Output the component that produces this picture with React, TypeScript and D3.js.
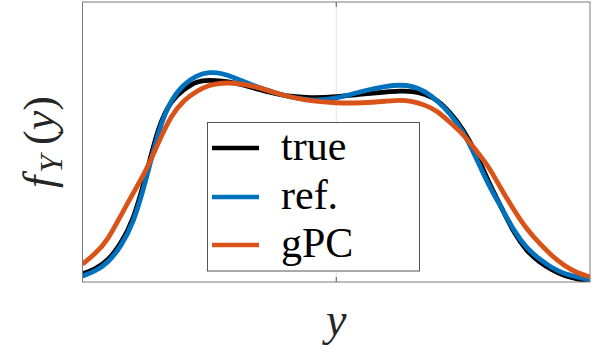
import React from "react";
import * as d3 from "d3";

// curves (x in [-1, 1], density scaled to axis height)
const xVals = [
  -1, -0.95, -0.9, -0.85, -0.8, -0.75, -0.7, -0.65, -0.6, -0.55, -0.5, -0.45, -0.4,
  -0.35, -0.3, -0.25, -0.2, -0.1, 0, 0.1, 0.2, 0.25, 0.3, 0.35, 0.4, 0.45, 0.5, 0.55,
  0.6, 0.65, 0.7, 0.75, 0.8, 0.85, 0.9, 0.95, 1,
];
const trueVals = [
  0.029, 0.046, 0.075, 0.136, 0.218, 0.379, 0.561, 0.65, 0.689, 0.718, 0.721, 0.718, 0.711,
  0.7, 0.686, 0.675, 0.664, 0.657, 0.661, 0.671, 0.679, 0.682, 0.682, 0.671, 0.65, 0.604,
  0.546, 0.464, 0.357, 0.268, 0.175, 0.111, 0.071, 0.043, 0.021, 0.011, 0.004,
];
const refVals = [
  0.021, 0.039, 0.068, 0.125, 0.207, 0.361, 0.546, 0.654, 0.707, 0.739, 0.75, 0.746, 0.729,
  0.711, 0.693, 0.679, 0.664, 0.646, 0.654, 0.682, 0.7, 0.704, 0.7, 0.682, 0.646, 0.6,
  0.539, 0.446, 0.346, 0.268, 0.182, 0.121, 0.082, 0.05, 0.029, 0.018, 0.007,
];
const gpcVals = [
  0.064, 0.1, 0.15, 0.236, 0.318, 0.396, 0.5, 0.596, 0.65, 0.682, 0.704, 0.711, 0.711,
  0.704, 0.693, 0.679, 0.664, 0.646, 0.639, 0.639, 0.646, 0.65, 0.646, 0.632, 0.611, 0.568,
  0.529, 0.471, 0.414, 0.332, 0.257, 0.189, 0.139, 0.093, 0.057, 0.032, 0.018,
];
const seriesNames = ["true", "ref.", "gPC"];
const seriesColors = ["#000000", "#0072BD", "#D95319"];
const xTicks = [0];

const W = 598;
const H = 354;
const box = { left: 82.5, right: 590, top: 2, bottom: 282 };
const serif = "'Liberation Serif', 'DejaVu Serif', serif";

export default function App() {
  const x = d3.scaleLinear().domain([-1, 1]).range([box.left, box.right]);
  const y = d3.scaleLinear().domain([0, 1]).range([box.bottom, box.top]);

  const line = d3
    .line<number>()
    .x((d, i) => x(xVals[i]))
    .y((d) => y(d))
    .curve(d3.curveBasis);

  const series = [trueVals, refVals, gpcVals];

  // legend placement
  const leg = { x: 207.5, y: 122.5, w: 212, h: 148.5 };
  const rowY = [148, 197, 245];

  return (
    <div style={{ position: "fixed", left: 0, top: 0 }}>
      <svg width={W} height={H} style={{ display: "block", background: "#fff" }}>
        <defs>
          <clipPath id="plot">
            <rect x={box.left} y={box.top} width={box.right - box.left} height={box.bottom - box.top} />
          </clipPath>
        </defs>

        {xTicks.map((t) => (
          <g key={t}>
            <line x1={x(t)} x2={x(t)} y1={box.top} y2={box.bottom} stroke="#e3e3e3" strokeWidth={1} />
            <line x1={x(t)} x2={x(t)} y1={box.bottom} y2={box.bottom - 5} stroke="#555" strokeWidth={1} />
            <line x1={x(t)} x2={x(t)} y1={box.top} y2={box.top + 5} stroke="#555" strokeWidth={1} />
          </g>
        ))}

        <g clipPath="url(#plot)">
          {series.map((s, i) => (
            <path
              key={seriesNames[i]}
              d={line(s) || ""}
              fill="none"
              stroke={seriesColors[i]}
              strokeWidth={4.8}
              strokeLinejoin="round"
            />
          ))}
        </g>

        <rect
          x={box.left}
          y={box.top}
          width={box.right - box.left}
          height={box.bottom - box.top}
          fill="none"
          stroke="#7a7a7a"
          strokeWidth={1}
        />

        {/* legend */}
        <rect x={leg.x} y={leg.y} width={leg.w} height={leg.h} fill="#fff" stroke="#555" strokeWidth={1} />
        {seriesNames.map((n, i) => (
          <g key={n}>
            <line x1={212} x2={259} y1={rowY[i]} y2={rowY[i]} stroke={seriesColors[i]} strokeWidth={4.5} />
            <text x={281} y={rowY[i] + 12} fontFamily={serif} fontSize={42} fill="#000">
              {n}
            </text>
          </g>
        ))}

        {/* axis labels */}
        <text x={x(0)} y={335} textAnchor="middle" fontFamily={serif} fontStyle="italic" fontSize={46} fill="#262626">
          y
        </text>
        <text
          transform={`translate(54, ${(box.top + box.bottom) / 2}) rotate(-90)`}
          textAnchor="middle"
          fontFamily={serif}
          fontSize={44}
          fill="#262626"
        >
          <tspan fontStyle="italic">f</tspan>
          <tspan fontStyle="italic" fontSize={32} dy={8} dx={3}>Y</tspan>
          <tspan dy={-8} dx={10}>(</tspan>
          <tspan fontStyle="italic">y</tspan>
          <tspan>)</tspan>
        </text>
      </svg>
    </div>
  );
}
